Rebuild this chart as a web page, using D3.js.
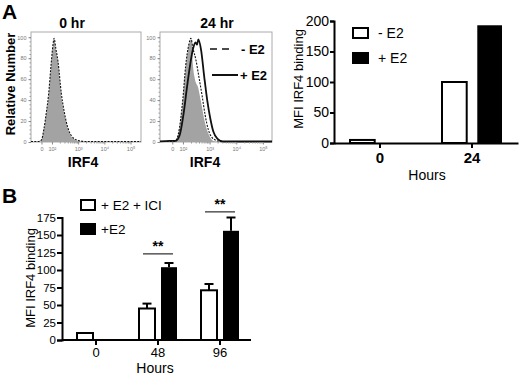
<!DOCTYPE html>
<html>
<head>
<meta charset="utf-8">
<script src="https://cdn.jsdelivr.net/npm/d3@7"></script>
<style>
  body { margin: 0; background: #fff; }
  svg { font-family: 'Liberation Sans', Arial, sans-serif; display: block; }
</style>
</head>
<body>
<div id="chart"></div>
<script>
// ---- panel A, flow histograms: [log10 decade, % of max] ----
const hr0Grey = [[1.2,0],[1.54,0],[1.69,11],[1.79,28],[1.87,43],[1.96,70],[2.04,92],[2.08,99],[2.15,88],[2.23,75],[2.36,43],[2.46,28],[2.55,18],[2.74,5],[3.0,1],[3.27,0],[5.4,0]];
const hr0Dash = [[1.2,0.5],[1.5,0.5],[1.6,2],[1.69,12],[1.79,29],[1.87,45],[1.96,72],[2.04,93],[2.08,99],[2.15,89],[2.23,77],[2.36,46],[2.46,30],[2.55,19],[2.74,6],[3.0,1.5],[3.3,0.5],[5.4,0.5]];
const hr24Grey = [[1.14,0],[1.72,0],[1.83,8],[2.0,40],[2.1,70],[2.22,92],[2.32,98],[2.37,75],[2.45,60],[2.57,52],[2.68,38],[2.83,18],[2.99,6],[3.14,1],[3.33,0],[5.34,0]];
const hr24Minus = [[1.14,0.5],[1.65,0.5],[1.72,1],[1.83,8],[2.0,42],[2.1,72],[2.22,93],[2.3,99],[2.37,90],[2.49,78],[2.6,62],[2.72,44],[2.83,26],[2.95,12],[3.1,4],[3.33,1],[3.6,0.5],[5.34,0.5]];
const hr24Plus = [[1.14,0.5],[1.5,1],[1.72,1],[1.87,6],[2.03,28],[2.14,50],[2.26,72],[2.37,88],[2.47,95],[2.53,93],[2.58,98],[2.68,88],[2.8,62],[2.91,40],[3.03,22],[3.14,10],[3.3,3],[3.49,0.5],[3.8,0.5],[5.34,0.5]];
const flowTickVals = [1.6, 2, 3, 4, 5];
const flowTickLabels = ['0', '10\u00b2', '10\u00b3', '10\u2074', '10\u2075'];

// ---- panel A, MFI bars ----
const hoursA = ['0', '24'];
const minusE2 = [5, 100];
const plusE2 = [0, 193];

// ---- panel B, MFI bars with SEM ----
const hoursB = ['0', '48', '96'];
const iciMean = [10, 45, 71];
const iciErr = [0, 7, 9];
const e2Mean = [0, 104, 156];
const e2Err = [0, 6, 19];
const sigLabels = ['', '**', '**'];
const sigLevel = [0, 123, 183];

const svg = d3.select('#chart').append('svg')
    .attr('width', 520)
    .attr('height', 376);

svg.append('text').attr('x', 2).attr('y', 19)
    .style('font-size', '21px').style('font-weight', 'bold').text('A');
svg.append('text').attr('x', 2).attr('y', 203)
    .style('font-size', '21px').style('font-weight', 'bold').text('B');

// draws one histogram frame + curves
function drawHist(left, right, xDomain, curves) {
    const top = 32, bottom = 142;
    const x = d3.scaleLinear().domain(xDomain).range([left, right]);
    const y = d3.scaleLinear().domain([0, 105]).range([bottom, top]);
    const g = svg.append('g');

    g.append('rect')
        .attr('x', left).attr('y', top)
        .attr('width', right - left).attr('height', bottom - top)
        .attr('fill', 'none').attr('stroke', '#aaa').attr('stroke-width', 1);

    const area = d3.area().x(d => x(d[0])).y0(y(0)).y1(d => y(d[1])).curve(d3.curveMonotoneX);
    const line = d3.line().x(d => x(d[0])).y(d => y(d[1])).curve(d3.curveMonotoneX);

    curves.forEach(c => {
        if (c.type === 'fill') {
            g.append('path').datum(c.data).attr('d', area).attr('fill', '#a3a3a3');
        } else {
            g.append('path').datum(c.data).attr('d', line)
                .attr('fill', 'none').attr('stroke', '#111')
                .attr('stroke-width', c.type === 'dash' ? 1.1 : 1.8)
                .attr('stroke-dasharray', c.type === 'dash' ? '2,1.3' : null);
        }
    });

    // minor ticks
    const minorY = d3.range(0, 101, 4);
    g.append('g').attr('transform', `translate(${left},0)`)
        .call(d3.axisLeft(y).tickValues(minorY).tickSize(1.5).tickFormat(''))
        .call(a => a.select('.domain').remove())
        .selectAll('line').attr('stroke', '#999');
    const minorX = [];
    [1, 2, 3, 4].forEach(d => d3.range(2, 10).forEach(k => minorX.push(d + Math.log10(k))));
    g.append('g').attr('transform', `translate(0,${bottom})`)
        .call(d3.axisBottom(x).tickValues(minorX.filter(v => v > 2 && v < xDomain[1])).tickSize(1.5).tickFormat(''))
        .call(a => a.select('.domain').remove())
        .selectAll('line').attr('stroke', '#999');

    g.append('g').attr('transform', `translate(${left},0)`)
        .call(d3.axisLeft(y).tickValues([0, 20, 40, 60, 80, 100]).tickSize(2.5).tickPadding(2))
        .call(a => a.select('.domain').remove())
        .call(a => a.selectAll('line').attr('stroke', '#888'))
        .selectAll('text').style('font-size', '5.5px').attr('fill', '#777');

    g.append('g').attr('transform', `translate(0,${bottom})`)
        .call(d3.axisBottom(x).tickValues(flowTickVals)
            .tickFormat((d, i) => flowTickLabels[i]).tickSize(2.5).tickPadding(3))
        .call(a => a.select('.domain').remove())
        .call(a => a.selectAll('line').attr('stroke', '#888'))
        .selectAll('text').style('font-size', '5.5px').attr('fill', '#777');
    return g;
}

drawHist(31, 141, [1.2, 5.4], [
    { type: 'fill', data: hr0Grey },
    { type: 'dash', data: hr0Dash }
]);
const h2 = drawHist(160, 272, [1.14, 5.34], [
    { type: 'fill', data: hr24Grey },
    { type: 'dash', data: hr24Minus },
    { type: 'solid', data: hr24Plus }
]);

svg.append('text').attr('x', 72).attr('y', 28).attr('text-anchor', 'middle')
    .style('font-size', '14px').style('font-weight', 'bold').text('0 hr');
svg.append('text').attr('x', 217).attr('y', 28).attr('text-anchor', 'middle')
    .style('font-size', '14px').style('font-weight', 'bold').text('24 hr');
svg.append('text').attr('x', 83).attr('y', 167).attr('text-anchor', 'middle')
    .style('font-size', '14px').style('font-weight', 'bold').text('IRF4');
svg.append('text').attr('x', 205).attr('y', 167).attr('text-anchor', 'middle')
    .style('font-size', '14px').style('font-weight', 'bold').text('IRF4');
svg.append('text').attr('transform', 'translate(15,84) rotate(-90)').attr('text-anchor', 'middle')
    .style('font-size', '13px').style('font-weight', 'bold').text('Relative Number');

// histogram legend
h2.append('line').attr('x1', 210).attr('x2', 229).attr('y1', 49).attr('y2', 49)
    .attr('stroke', '#111').attr('stroke-width', 1.6).attr('stroke-dasharray', '7,5');
h2.append('text').attr('x', 241).attr('y', 53.5)
    .style('font-size', '13px').style('font-weight', 'bold').text('- E2');
h2.append('line').attr('x1', 212).attr('x2', 238).attr('y1', 75).attr('y2', 75)
    .attr('stroke', '#111').attr('stroke-width', 2);
h2.append('text').attr('x', 240).attr('y', 79.5)
    .style('font-size', '13px').style('font-weight', 'bold').text('+ E2');

// ---- panel A bar chart ----
const xA = d3.scaleBand().domain(hoursA).range([334, 518]).padding(0);
const xA2 = d3.scaleBand().domain(['minus', 'plus']).range([16, 76]).paddingInner(0.3);
const yA = d3.scaleLinear().domain([0, 200]).range([143, 21]);
const gA = svg.append('g');

hoursA.forEach((h, i) => {
    gA.append('rect')
        .attr('x', xA(h) + xA2('minus')).attr('y', yA(minusE2[i]))
        .attr('width', xA2.bandwidth()).attr('height', yA(0) - yA(minusE2[i]))
        .attr('fill', '#fff').attr('stroke', '#000').attr('stroke-width', 2);
    gA.append('rect')
        .attr('x', xA(h) + xA2('plus')).attr('y', yA(plusE2[i]))
        .attr('width', xA2.bandwidth()).attr('height', yA(0) - yA(plusE2[i]))
        .attr('fill', '#000');
});

gA.append('g').attr('transform', 'translate(334,0)')
    .call(d3.axisLeft(yA).tickValues([0, 50, 100, 150, 200]).tickSize(4).tickPadding(1))
    .call(a => a.selectAll('path,line').attr('stroke-width', 2))
    .selectAll('text').style('font-size', '14px').attr('fill', '#000');
gA.append('g').attr('transform', `translate(0,${yA(0)})`)
    .call(d3.axisBottom(xA).tickSize(5).tickSizeOuter(0).tickPadding(4))
    .call(a => a.selectAll('path,line').attr('stroke-width', 2))
    .selectAll('text').style('font-size', '15px').style('font-weight', 'bold').attr('fill', '#000');

gA.append('text').attr('transform', 'translate(303,79) rotate(-90)').attr('text-anchor', 'middle')
    .style('font-size', '13px').text('MFI IRF4 binding');
gA.append('text').attr('x', 427).attr('y', 180).attr('text-anchor', 'middle')
    .style('font-size', '14px').text('Hours');

gA.append('rect').attr('x', 353).attr('y', 28).attr('width', 15).attr('height', 10)
    .attr('fill', '#fff').attr('stroke', '#000').attr('stroke-width', 2);
gA.append('text').attr('x', 378).attr('y', 38).style('font-size', '14px').text('- E2');
gA.append('rect').attr('x', 352).attr('y', 52).attr('width', 17).attr('height', 12).attr('fill', '#000');
gA.append('text').attr('x', 378).attr('y', 63).style('font-size', '14px').text('+ E2');

// ---- panel B bar chart ----
const xB = d3.scaleBand().domain(hoursB).range([65, 251]).padding(0);
const xB2 = d3.scaleBand().domain(['ici', 'e2']).range([12, 50]).paddingInner(0.273);
const yB = d3.scaleLinear().domain([0, 175]).range([340, 217.5]);
const gB = svg.append('g');

function errBar(cx, mean, err) {
    if (!err) return;
    gB.append('line').attr('x1', cx).attr('x2', cx).attr('y1', yB(mean)).attr('y2', yB(mean + err))
        .attr('stroke', '#000').attr('stroke-width', 2);
    gB.append('line').attr('x1', cx - 4.5).attr('x2', cx + 4.5).attr('y1', yB(mean + err)).attr('y2', yB(mean + err))
        .attr('stroke', '#000').attr('stroke-width', 2);
}

hoursB.forEach((h, i) => {
    const xi = xB(h) + xB2('ici'), xe = xB(h) + xB2('e2'), bw = xB2.bandwidth();
    errBar(xi + bw / 2, iciMean[i], iciErr[i]);
    errBar(xe + bw / 2, e2Mean[i], e2Err[i]);
    gB.append('rect')
        .attr('x', xi).attr('y', yB(iciMean[i]))
        .attr('width', bw).attr('height', yB(0) - yB(iciMean[i]))
        .attr('fill', '#fff').attr('stroke', '#000').attr('stroke-width', 2);
    gB.append('rect')
        .attr('x', xe).attr('y', yB(e2Mean[i]))
        .attr('width', bw).attr('height', yB(0) - yB(e2Mean[i]))
        .attr('fill', '#000');
    if (sigLabels[i]) {
        gB.append('line').attr('x1', xi + bw / 2 - 4).attr('x2', xe + bw / 2 + 4)
            .attr('y1', yB(sigLevel[i])).attr('y2', yB(sigLevel[i]))
            .attr('stroke', '#000').attr('stroke-width', 1);
        gB.append('text').attr('x', xB(h) + xB.bandwidth() / 2).attr('y', yB(sigLevel[i]) - 3)
            .attr('text-anchor', 'middle').style('font-size', '14px').style('font-weight', 'bold')
            .text(sigLabels[i]);
    }
});

gB.append('g').attr('transform', 'translate(62,0)')
    .call(d3.axisLeft(yB).tickValues(d3.range(0, 176, 25)).tickSize(5).tickPadding(1))
    .call(a => a.selectAll('path,line').attr('stroke-width', 2))
    .selectAll('text').style('font-size', '11.5px').attr('fill', '#000');
gB.append('g').attr('transform', `translate(0,${yB(0)})`)
    .call(d3.axisBottom(xB).tickSize(5).tickSizeOuter(0).tickPadding(3))
    .call(a => a.select('.domain').attr('d', `M62,0H251`))
    .call(a => a.selectAll('path,line').attr('stroke-width', 2))
    .selectAll('text').style('font-size', '13px').attr('fill', '#000');

gB.append('text').attr('transform', 'translate(35,278) rotate(-90)').attr('text-anchor', 'middle')
    .style('font-size', '13px').text('MFI IRF4 binding');
gB.append('text').attr('x', 155).attr('y', 373).attr('text-anchor', 'middle')
    .style('font-size', '14px').text('Hours');

gB.append('rect').attr('x', 81).attr('y', 200).attr('width', 14).attr('height', 10)
    .attr('fill', '#fff').attr('stroke', '#000').attr('stroke-width', 2);
gB.append('text').attr('x', 101).attr('y', 210).style('font-size', '13.5px').text('+ E2 + ICI');
gB.append('rect').attr('x', 80).attr('y', 223).attr('width', 16).attr('height', 12).attr('fill', '#000');
gB.append('text').attr('x', 101).attr('y', 234).style('font-size', '13.5px').text('+E2');
</script>
</body>
</html>
